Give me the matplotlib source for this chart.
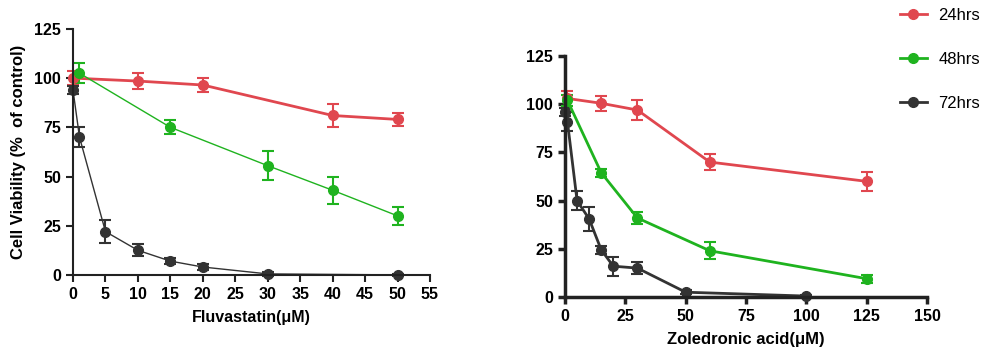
import matplotlib.pyplot as plt
from matplotlib.lines import Line2D

plt.rcParams['font.family'] = ['Liberation Sans', 'DejaVu Sans']

red = '#e0474f'
green = '#1fb31f'
black = '#333333'

# Fluvastatin panel
flu_x24 = [0, 10, 20, 40, 50]
flu_y24 = [100, 98.5, 96.5, 81, 79]
flu_e24 = [3.5, 4, 3.5, 6, 3.5]
flu_x48 = [1, 15, 30, 40, 50]
flu_y48 = [102.5, 75, 55.5, 43, 30]
flu_e48 = [5, 3.5, 7.5, 7, 4.5]
flu_x72 = [0, 1, 5, 10, 15, 20, 30, 50]
flu_y72 = [94, 70, 22, 12.5, 7, 4, 0.5, 0]
flu_e72 = [2, 5, 6, 3, 1.5, 1.5, 1, 0.5]

# Zoledronic acid panel
zol_x24 = [1, 15, 30, 60, 125]
zol_y24 = [103, 100.5, 97, 70, 60]
zol_e24 = [4, 4, 5, 4, 5]
zol_x48 = [1, 15, 30, 60, 125]
zol_y48 = [102, 64.5, 41, 24, 9.5]
zol_e48 = [3, 2, 3, 4.5, 2]
zol_x72 = [0, 1, 5, 10, 15, 20, 30, 50, 100]
zol_y72 = [96, 91, 50, 40.5, 24.5, 16, 15, 2.5, 0.5]
zol_e72 = [2, 5, 5, 6, 2, 5, 3, 1, 0.5]

labels = ['24hrs', '48hrs', '72hrs']
colors = [red, green, black]

fig = plt.figure(figsize=(10, 3.57), dpi=100)
ax1 = fig.add_axes([0.073, 0.23, 0.357, 0.689])
ax2 = fig.add_axes([0.565, 0.168, 0.362, 0.675])


def series(ax, x, y, e, c, lw):
    ax.errorbar(x, y, yerr=e, color=c, lw=lw, marker='o', ms=7, capsize=4,
                elinewidth=1.5, capthick=1.5)


series(ax1, flu_x24, flu_y24, flu_e24, red, 2)
series(ax1, flu_x48, flu_y48, flu_e48, green, 1)
series(ax1, flu_x72, flu_y72, flu_e72, black, 1)
series(ax2, zol_x24, zol_y24, zol_e24, red, 2)
series(ax2, zol_x48, zol_y48, zol_e48, green, 2)
series(ax2, zol_x72, zol_y72, zol_e72, black, 2)

ax1.set_xlim(0, 55)
ax1.set_xticks(range(0, 56, 5))
ax2.set_xlim(0, 150)
ax2.set_xticks(range(0, 151, 25))
for ax, sw in ((ax1, 1.5), (ax2, 2.5)):
    ax.set_ylim(0, 125)
    ax.set_yticks(range(0, 126, 25))
    ax.spines['top'].set_visible(False)
    ax.spines['right'].set_visible(False)
    for s in ('left', 'bottom'):
        ax.spines[s].set_linewidth(sw)
        ax.spines[s].set_color('#222222')
    ax.tick_params(width=sw, length=5, labelsize=11.5, color='#222222')
    for t in ax.get_xticklabels() + ax.get_yticklabels():
        t.set_fontweight('bold')
    for line in ax.get_lines():
        line.set_clip_on(False)

ax1.set_ylabel('Cell Viability (%  of control)', fontsize=12, fontweight='bold',
               labelpad=6)
ax1.set_xlabel('Fluvastatin(\u03bcM)', fontsize=11.5, fontweight='bold', labelpad=6)
ax2.set_xlabel('Zoledronic acid(\u03bcM)', fontsize=12, fontweight='bold', labelpad=6)

handles = [Line2D([], [], color=c, lw=2, marker='o', ms=7) for c in colors]
fig.legend(handles, labels, loc='upper left', bbox_to_anchor=(0.885, 1.02),
           frameon=False, fontsize=12, handlelength=1.6, labelspacing=1.75,
           handletextpad=0.7)

fig.savefig('out.png', dpi=100)
